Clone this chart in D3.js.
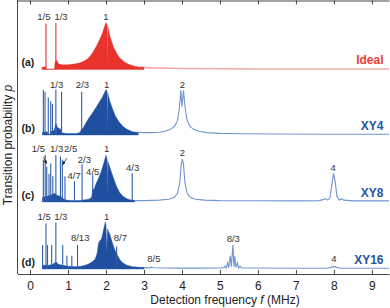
<!DOCTYPE html>
<html><head><meta charset="utf-8">
<script src="https://cdn.jsdelivr.net/npm/d3@7"></script>
<style>body{margin:0;background:#fff}svg{display:block}text{font-family:"Liberation Sans",Arial,sans-serif}</style>
</head><body><svg id="c" width="390" height="308"></svg>
<script>
const xTicks = [0,1,2,3,4,5,6,7,8,9];

// Ideal (a)
const idealEnvelope = [[0.31,0],[0.32,0.05],[0.4,0.06],[0.43,0.02],[0.45,0.01],[0.64,0.01],[0.66,0.15],[0.7,0.2],[0.75,0.12],[0.85,0.1],[1.0,0.1],[1.1,0.11],[1.2,0.12],[1.3,0.14],[1.4,0.17],[1.5,0.22],[1.58,0.28],[1.65,0.36],[1.75,0.5],[1.84,0.65],[1.9,0.76],[1.94,0.86],[1.98,0.96],[2.0,1.0],[2.03,0.94],[2.04,0.05],[2.05,0.9],[2.1,0.72],[2.2,0.47],[2.3,0.32],[2.37,0.24],[2.5,0.15],[2.63,0.1],[2.75,0.07],[2.9,0.05],[3.0,0.04],[3.0,0]];
const idealSpikes = [[0.42,0.98],[0.68,0.99]];
const idealCurve = [[2.9,0.05],[3.2,0.035],[3.6,0.025],[4,0.02],[5,0.015],[6,0.012],[7,0.01],[8,0.01],[9.45,0.01]];
const idealLabels = [["1/5",0.363,1.05],["1/3",0.816,1.05],["1",2.0,1.05]];

// XY4 (b)
const xy4Envelope = [[0.32,0],[0.33,0.06],[0.45,0.07],[0.47,0.02],[0.53,0.02],[0.55,0.08],[0.64,0.1],[0.68,0.25],[0.72,0.16],[0.8,0.13],[0.84,0.05],[0.95,0.03],[1.2,0.03],[1.3,0.05],[1.36,0.12],[1.4,0.15],[1.47,0.26],[1.55,0.36],[1.65,0.48],[1.75,0.6],[1.83,0.71],[1.9,0.8],[1.96,0.9],[2.0,0.97],[2.03,0.92],[2.04,0.05],[2.05,0.88],[2.1,0.72],[2.18,0.54],[2.25,0.4],[2.35,0.27],[2.45,0.18],[2.55,0.12],[2.61,0.1],[2.7,0.07],[2.79,0.06],[2.85,0.05],[2.85,0]];
const xy4Spikes = [[0.35,0.96],[0.395,0.92],[0.48,0.8],[0.545,0.72],[0.59,0.66],[0.68,0.97],[0.83,0.92],[1.36,0.92]];
const xy4Curve = [[2.8,0.06],[3.0,0.05],[3.2,0.05],[3.4,0.06],[3.55,0.08],[3.7,0.12],[3.8,0.18],[3.88,0.3],[3.93,0.55],[3.97,0.95],[4.0,0.6],[4.04,0.95],[4.08,0.6],[4.13,0.33],[4.2,0.2],[4.3,0.12],[4.45,0.08],[4.65,0.05],[5.0,0.035],[5.5,0.025],[6.5,0.02],[7.5,0.015],[8.5,0.015],[9.45,0.015]];
const xy4Labels = [["1/3",0.70,0.99],["2/3",1.38,0.99],["1",2.02,0.99],["2",4.01,0.99]];

// XY8 (c)
const xy8Envelope = [[0.32,0],[0.33,0.1],[0.45,0.12],[0.55,0.15],[0.65,0.18],[0.72,0.14],[0.8,0.12],[0.88,0.07],[0.95,0.04],[1.1,0.03],[1.3,0.03],[1.45,0.05],[1.55,0.06],[1.62,0.1],[1.65,0.25],[1.7,0.3],[1.73,0.38],[1.8,0.5],[1.87,0.64],[1.95,0.85],[2.0,1.0],[2.03,0.9],[2.04,0.08],[2.05,0.86],[2.1,0.74],[2.15,0.62],[2.22,0.46],[2.28,0.33],[2.36,0.2],[2.45,0.12],[2.55,0.07],[2.63,0.05],[2.75,0.03],[2.75,0]];
const xy8Spikes = [[0.35,0.9],[0.4,1.0],[0.44,0.75],[0.5,0.6],[0.545,0.82],[0.6,0.55],[0.68,1.0],[0.8,0.97],[0.85,0.9],[0.92,0.55],[1.17,0.44],[1.37,0.81],[1.65,0.58],[2.69,0.61]];
const xy8Curve = [[2.7,0.03],[3.0,0.03],[3.4,0.04],[3.65,0.06],[3.8,0.1],[3.88,0.18],[3.94,0.4],[3.98,0.8],[4.01,0.91],[4.04,0.8],[4.08,0.4],[4.14,0.18],[4.22,0.1],[4.35,0.06],[4.6,0.04],[5.0,0.03],[6.0,0.025],[7.0,0.025],[7.6,0.03],[7.72,0.05],[7.78,0.07],[7.84,0.04],[7.9,0.1],[7.95,0.4],[7.99,0.61],[8.03,0.45],[8.08,0.12],[8.14,0.04],[8.2,0.07],[8.26,0.04],[8.5,0.025],[9.45,0.025]];
const xy8Labels = [["1/5",0.22,1.07],["1/3",0.70,1.07],["2/5",1.07,1.07],["1",2.02,1.07],["2/3",1.43,0.84],["4/7",1.16,0.49],["4/5",1.65,0.57],["4/3",2.70,0.65],["2",4.01,0.97],["4",7.98,0.67]];
const xy8Arrows = [[0.355,0.96,0.434,0.81],[0.966,0.93,0.855,0.79]];

// XY16 (d)
const xy16Envelope = [[0.32,0],[0.33,0.08],[0.5,0.08],[0.6,0.1],[0.68,0.15],[0.75,0.1],[0.85,0.08],[1.0,0.06],[1.2,0.05],[1.35,0.06],[1.45,0.08],[1.55,0.11],[1.65,0.16],[1.72,0.22],[1.77,0.35],[1.8,0.55],[1.84,0.6],[1.88,0.64],[1.92,0.78],[1.96,0.92],[1.98,1.0],[2.0,0.94],[2.02,0.35],[2.04,0.85],[2.1,0.74],[2.16,0.58],[2.22,0.43],[2.3,0.29],[2.38,0.18],[2.45,0.13],[2.55,0.08],[2.7,0.05],[2.9,0.035],[3.0,0.03],[3.0,0]];
const xy16Spikes = [[0.33,0.51],[0.42,0.97],[0.46,0.51],[0.57,0.51],[0.68,0.99],[0.86,0.51],[0.97,0.28],[1.1,0.28],[1.25,0.51],[2.28,0.48]];
const xy16Curve = [[2.95,0.03],[3.15,0.025],[3.2,0.04],[3.25,0.025],[3.5,0.02],[4.0,0.018],[4.5,0.018],[5.0,0.02],[5.1,0.03],[5.13,0.06],[5.16,0.02],[5.2,0.13],[5.23,0.03],[5.27,0.28],[5.3,0.05],[5.34,0.51],[5.37,0.05],[5.39,0.27],[5.42,0.03],[5.46,0.13],[5.49,0.02],[5.53,0.06],[5.57,0.02],[5.7,0.02],[7.0,0.015],[7.8,0.015],[7.9,0.03],[8.0,0.05],[8.1,0.03],[8.2,0.015],[9.45,0.015]];
const xy16Labels = [["1/5",0.37,1.05],["1/3",0.81,1.05],["1",2.02,1.05],["8/13",1.32,0.6],["8/7",2.38,0.6],["8/5",3.26,0.14],["8/3",5.35,0.57],["4",8.0,0.14]];

const panelIds = ["(a)","(b)","(c)","(d)"];
const panelNames = ["Ideal","XY4","XY8","XY16"];

const svg = d3.select("#c");
const x = d3.scaleLinear().domain([-0.33,9.45]).range([17.5,389]);

svg.append("defs").append("marker").attr("id","arr").attr("viewBox","0 0 10 10")
  .attr("refX",9).attr("refY",5).attr("markerWidth",5).attr("markerHeight",5).attr("orient","auto")
  .append("path").attr("d","M0,1L10,5L0,9z").attr("fill","#222");

const red = {dark:"#e8332c", light:"#f6a9a6", spike:"#e8332c", name:"#ee3a33"};
const blue = {dark:"#1f4f9e", light:"#7096cf", spike:"#2f5eab", name:"#2456a8"};
const panels = [
  {env:idealEnvelope, spk:idealSpikes, crv:idealCurve, lab:idealLabels, arr:[], base:69.5, c:red},
  {env:xy4Envelope, spk:xy4Spikes, crv:xy4Curve, lab:xy4Labels, arr:[], base:135, c:blue},
  {env:xy8Envelope, spk:xy8Spikes, crv:xy8Curve, lab:xy8Labels, arr:xy8Arrows, base:202, c:blue},
  {env:xy16Envelope, spk:xy16Spikes, crv:xy16Curve, lab:xy16Labels, arr:[], base:269, c:blue}
];

panels.forEach((P,i)=>{
  const y = d3.scaleLinear().domain([0,1]).range([P.base, P.base-47]);
  const g = svg.append("g");
  const line = d3.line().x(d=>x(d[0])).y(d=>y(d[1]));
  const area = d3.area().x(d=>x(d[0])).y0(y(0)).y1(d=>y(d[1]));
  g.append("path").attr("d",line(P.crv)).attr("fill","none").attr("stroke",P.c.light).attr("stroke-width",i===0?1.6:1.1);
  g.append("path").attr("d",area(P.env)).attr("fill",P.c.dark).attr("stroke",P.c.dark).attr("stroke-width",0.4);
  g.selectAll("line.s").data(P.spk).join("line").attr("class","s")
    .attr("x1",d=>x(d[0])).attr("x2",d=>x(d[0])).attr("y1",y(0)).attr("y2",d=>y(d[1]))
    .attr("stroke",P.c.spike).attr("stroke-width",1.1);
  g.selectAll("text.l").data(P.lab).join("text").attr("class","l")
    .attr("x",d=>x(d[1])).attr("y",d=>y(d[2])).attr("text-anchor","middle")
    .attr("font-size",9.5).attr("fill","#333").text(d=>d[0]);
  g.selectAll("line.a").data(P.arr).join("line").attr("class","a")
    .attr("x1",d=>x(d[0])).attr("y1",d=>y(d[1])).attr("x2",d=>x(d[2])).attr("y2",d=>y(d[3]))
    .attr("stroke","#222").attr("stroke-width",0.8).attr("marker-end","url(#arr)");
  g.append("text").attr("x",21.5).attr("y",P.base-3.5).attr("font-size",10.5).attr("font-weight","bold")
    .attr("fill","#222").text(panelIds[i]);
  g.append("text").attr("x",383.5).attr("y",P.base-5.5).attr("text-anchor","end").attr("font-size",12)
    .attr("font-weight","bold").attr("fill",P.c.name).text(panelNames[i]);
});

// axes
svg.append("g").attr("transform","translate(0,274)")
  .call(d3.axisBottom(x).tickValues(xTicks).tickSize(-4).tickSizeOuter(0).tickPadding(7.5))
  .call(g=>{g.selectAll("text").attr("font-size",12).attr("fill","#222").attr("font-family","Liberation Sans, Arial, sans-serif");
    g.selectAll("line,path").attr("stroke","#444");});
svg.append("g").attr("transform","translate(0,0.5)")
  .call(d3.axisTop(x).tickValues(xTicks).tickSize(-4).tickSizeOuter(0).tickFormat(""))
  .call(g=>g.selectAll("line,path").attr("stroke","#444"));
svg.append("line").attr("x1",17.5).attr("x2",17.5).attr("y1",0).attr("y2",274).attr("stroke","#444");

// titles
const xt = svg.append("text").attr("x",225).attr("y",304).attr("text-anchor","middle").attr("font-size",12).attr("fill","#222");
xt.append("tspan").text("Detection frequency ");
xt.append("tspan").attr("font-style","italic").text("f");
xt.append("tspan").text(" (MHz)");
const yt = svg.append("text").attr("transform","translate(11.5,145) rotate(-90)").attr("text-anchor","middle").attr("font-size",12).attr("fill","#222");
yt.append("tspan").text("Transition probability ");
yt.append("tspan").attr("font-style","italic").text("p");
</script></body></html>
